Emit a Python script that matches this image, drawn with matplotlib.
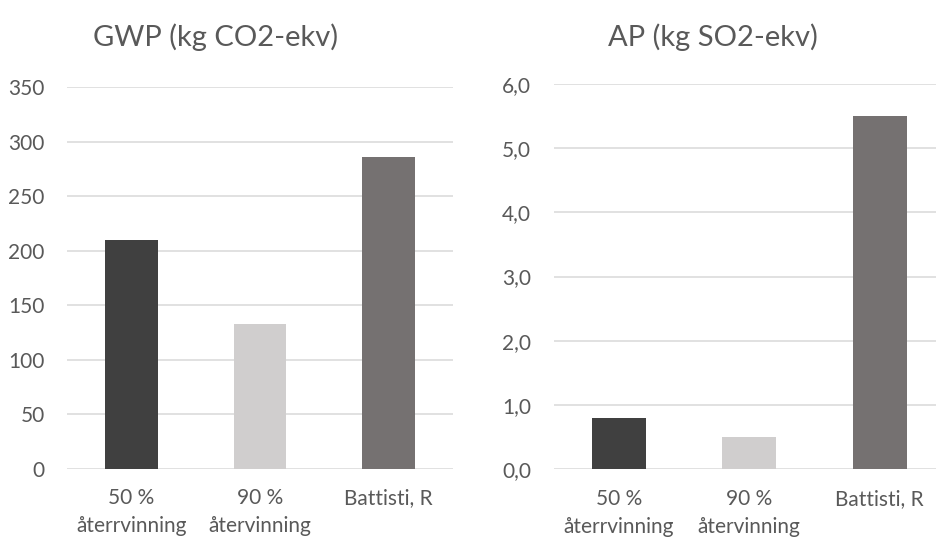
import matplotlib
matplotlib.use("Agg")
import matplotlib.pyplot as plt
from matplotlib.ticker import FixedLocator

categories = ["50 %\nåterrvinning", "90 %\nåtervinning", "Battisti, R"]
gwp_values = [210, 133, 286]
ap_values = [0.80, 0.50, 5.50]
gwp_ticks = [0, 50, 100, 150, 200, 250, 300, 350]
ap_ticks = [0.0, 1.0, 2.0, 3.0, 4.0, 5.0, 6.0]
ap_tick_labels = ["0,0", "1,0", "2,0", "3,0", "4,0", "5,0", "6,0"]
titles = ["GWP (kg CO2-ekv)", "AP (kg SO2-ekv)"]
bar_colors = ["#404040", "#d0cece", "#757171"]

text_color = "#595959"
grid_color = "#d9d9d9"
plt.rcParams["font.family"] = ["Lato", "DejaVu Sans"]

fig = plt.figure(figsize=(9.36, 5.43), dpi=100)
ax1 = fig.add_axes([67/936, 74/543, 386/936, 382/543])
ax2 = fig.add_axes([553.5/936, 73.7/543, 391.5/936, 385.6/543])

def style(ax, values, ticks, labels, ymax):
    x = range(len(categories))
    ax.bar(x, values, width=0.41, color=bar_colors, zorder=3)
    ax.set_xlim(-0.5, len(categories) - 0.5)
    ax.set_ylim(0, ymax)
    ax.yaxis.set_major_locator(FixedLocator(ticks))
    ax.set_yticklabels(labels)
    ax.set_xticks(list(x))
    ax.set_xticklabels(categories, linespacing=1.5)
    ax.grid(axis="y", color=grid_color, linewidth=1.1, zorder=0)
    for s in ax.spines.values():
        s.set_visible(False)
    ax.tick_params(axis="both", length=0, colors=text_color, labelsize=15)
    ax.tick_params(axis="y", pad=16)
    ax.tick_params(axis="x", pad=14)
    for lab in ax.get_xticklabels() + ax.get_yticklabels():
        lab.set_color(text_color)

style(ax1, gwp_values, gwp_ticks, [str(t) for t in gwp_ticks], 350)
style(ax2, ap_values, ap_ticks, ap_tick_labels, 6.0)

fig.text(216/936, 1 - 37/543, titles[0], ha="center", va="center",
         fontsize=21, color=text_color)
fig.text(713/936, 1 - 37/543, titles[1], ha="center", va="center",
         fontsize=21, color=text_color)

fig.savefig("out.png", dpi=100)
